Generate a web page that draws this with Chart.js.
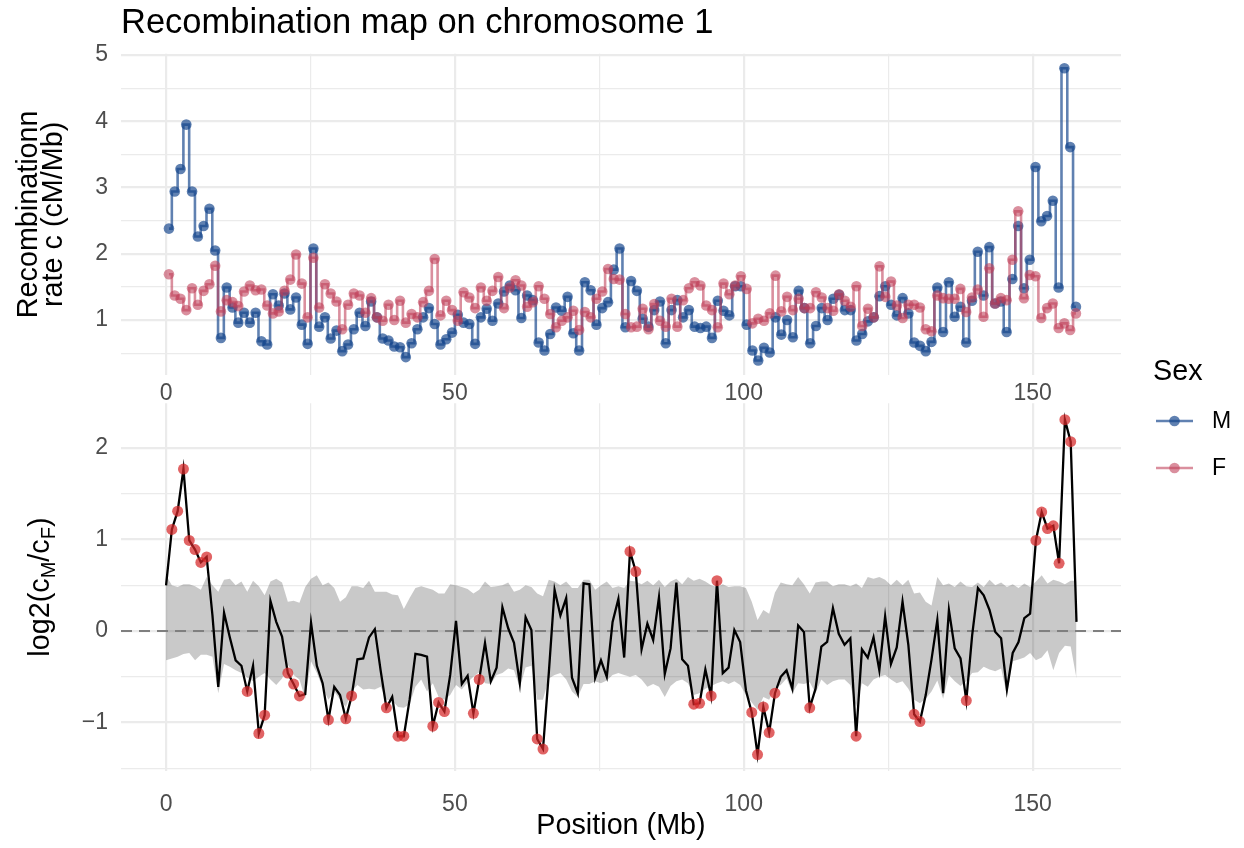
<!DOCTYPE html>
<html>
<head>
<meta charset="utf-8">
<script src="https://cdn.jsdelivr.net/npm/chart.js@4.4.1/dist/chart.umd.min.js"></script>
<style>
  html, body { margin: 0; padding: 0; background: #fff; }
  #wrap { position: relative; width: 1244px; height: 848px; }
  canvas { position: absolute; left: 0; }
  #cTop { top: 0; width: 1244px; height: 848px; }
  #cBot { top: 370px; width: 1244px; height: 478px; }
</style>
</head>
<body>
<div id="wrap">
  <canvas id="cTop" width="1244" height="848"></canvas>
  <canvas id="cBot" width="1244" height="478"></canvas>
</div>
<script>
// ─── Data ───
// recombination rate per 1 Mb window, cM/Mb
const rateM = [
  2.38, 2.94, 3.28, 3.95, 2.94, 2.26, 2.42, 2.68, 2.05, 0.73,
  1.49, 1.19, 0.96, 1.11, 0.96, 1.11, 0.68, 0.63, 1.39, 1.22,
  1.40, 1.16, 1.34, 0.93, 0.64, 2.08, 0.90, 1.04, 0.72, 0.84,
  0.53, 0.63, 0.86, 1.11, 0.91, 1.28, 1.04, 0.72, 0.69, 0.60,
  0.59, 0.44, 0.65, 0.86, 1.04, 1.18, 0.94, 0.63, 0.71, 0.81,
  1.08, 0.96, 0.94, 0.64, 1.04, 1.17, 0.99, 1.25, 1.43, 1.52,
  1.45, 1.03, 1.37, 1.30, 0.66, 0.54, 0.79, 1.19, 1.14, 1.35,
  0.80, 0.54, 1.57, 1.45, 0.93, 1.18, 1.27, 1.76, 2.08, 0.89,
  1.59, 1.44, 1.02, 0.90, 1.15, 1.28, 0.65, 1.15, 1.30, 1.04,
  1.15, 0.90, 0.88, 0.90, 0.73, 1.29, 1.14, 1.07, 1.51, 1.51,
  0.93, 0.54, 0.39, 0.58, 0.51, 1.04, 0.78, 1.00, 0.74, 1.44,
  1.18, 0.65, 0.91, 1.18, 1.00, 1.32, 1.38, 1.15, 1.15, 0.69,
  0.79, 0.98, 1.04, 1.36, 1.51, 1.23, 1.07, 1.33, 1.10, 0.66,
  0.61, 0.53, 0.67, 1.49, 0.82, 1.57, 1.05, 1.20, 0.66, 1.29,
  2.03, 1.37, 2.10, 1.25, 1.28, 0.82, 1.62, 2.42, 1.48, 1.91,
  3.31, 2.49, 2.57, 2.80, 1.49, 4.80, 3.61, 1.20
];
const rateF = [
  1.69, 1.37, 1.32, 1.15, 1.48, 1.23, 1.44, 1.54, 1.82, 1.13,
  1.30, 1.27, 1.21, 1.43, 1.52, 1.45, 1.46, 1.22, 1.10, 1.13,
  1.44, 1.61, 1.99, 1.55, 1.04, 1.94, 1.19, 1.54, 1.40, 1.28,
  0.86, 1.23, 1.40, 1.37, 1.11, 1.33, 1.04, 0.99, 1.23, 1.00,
  1.29, 0.96, 1.09, 1.04, 1.27, 1.44, 1.92, 1.07, 1.29, 1.15,
  0.99, 1.42, 1.34, 1.18, 1.49, 1.29, 1.44, 1.65, 1.18, 1.49,
  1.60, 1.52, 1.20, 1.27, 1.51, 1.32, 1.09, 0.89, 0.99, 1.04,
  1.14, 0.85, 1.12, 1.04, 1.32, 1.43, 1.77, 1.62, 1.61, 1.09,
  0.89, 0.90, 1.17, 0.86, 1.24, 0.99, 0.90, 1.32, 0.90, 1.30,
  1.48, 1.57, 1.52, 1.22, 1.15, 0.89, 1.55, 1.39, 1.52, 1.66,
  1.47, 0.95, 1.02, 0.99, 1.10, 1.67, 1.13, 1.35, 1.15, 1.32,
  1.18, 1.18, 1.42, 1.34, 1.18, 1.14, 1.39, 1.29, 1.20, 1.51,
  0.91, 1.17, 1.04, 1.81, 1.35, 1.58, 1.22, 1.03, 1.23, 1.23,
  1.19, 0.86, 0.83, 1.37, 1.33, 1.32, 1.32, 1.47, 1.12, 1.34,
  1.46, 1.05, 1.78, 1.25, 1.33, 1.30, 1.91, 2.64, 1.33, 1.68,
  1.66, 1.03, 1.18, 1.25, 0.88, 0.95, 0.85, 1.10
];
// log2(cM/cF) per window
const logRatio = [
  0.50, 1.11, 1.31, 1.77, 0.99, 0.89, 0.75, 0.81, 0.17, -0.61,
  0.20, -0.07, -0.32, -0.38, -0.66, -0.38, -1.12, -0.92, 0.33, 0.10,
  -0.06, -0.46, -0.58, -0.71, -0.69, 0.09, -0.38, -0.57, -0.97, -0.61,
  -0.70, -0.96, -0.71, -0.31, -0.30, -0.07, 0.02, -0.43, -0.84, -0.72,
  -1.15, -1.15, -0.75, -0.25, -0.26, -0.28, -1.04, -0.78, -0.88, -0.48,
  0.11, -0.58, -0.49, -0.90, -0.53, -0.13, -0.55, -0.40, 0.26, 0.03,
  -0.13, -0.57, 0.15, 0.01, -1.18, -1.29, -0.46, 0.45, 0.17, 0.36,
  -0.51, -0.68, 0.52, 0.51, -0.51, -0.32, -0.50, 0.10, 0.35, -0.29,
  0.87, 0.65, -0.20, 0.08, -0.10, 0.37, -0.47, -0.19, 0.53, -0.31,
  -0.38, -0.80, -0.79, -0.42, -0.71, 0.55, -0.46, -0.40, 0.01, -0.12,
  -0.65, -0.89, -1.35, -0.83, -1.11, -0.68, -0.50, -0.43, -0.63, 0.06,
  -0.01, -0.84, -0.63, -0.17, -0.12, 0.25, -0.03, -0.15, -0.08, -1.15,
  -0.20, -0.29, -0.07, -0.43, 0.16, -0.36, -0.18, 0.32, -0.15, -0.91,
  -0.99, -0.70, -0.31, 0.12, -0.68, 0.23, -0.19, -0.30, -0.76, -0.05,
  0.47, 0.39, 0.23, -0.01, -0.08, -0.64, -0.24, -0.12, 0.14, 0.19,
  0.99, 1.30, 1.12, 1.15, 0.74, 2.31, 2.07, 0.10
];
// permutation envelope (grey band)
const bandUpper = [
  0.61, 0.50, 0.48, 0.51, 0.51, 0.49, 0.45, 0.59, 0.50, 0.43,
  0.56, 0.57, 0.50, 0.54, 0.43, 0.55, 0.49, 0.39, 0.54, 0.57,
  0.53, 0.32, 0.33, 0.31, 0.48, 0.57, 0.61, 0.50, 0.53, 0.47,
  0.32, 0.37, 0.49, 0.49, 0.47, 0.55, 0.43, 0.43, 0.43, 0.40,
  0.39, 0.24, 0.36, 0.47, 0.49, 0.47, 0.45, 0.41, 0.41, 0.51,
  0.50, 0.48, 0.46, 0.41, 0.45, 0.54, 0.48, 0.49, 0.50, 0.53,
  0.43, 0.45, 0.50, 0.48, 0.41, 0.38, 0.56, 0.54, 0.50, 0.54,
  0.47, 0.47, 0.56, 0.56, 0.45, 0.50, 0.54, 0.47, 0.49, 0.47,
  0.55, 0.54, 0.51, 0.55, 0.50, 0.56, 0.48, 0.54, 0.57, 0.51,
  0.59, 0.55, 0.57, 0.54, 0.50, 0.48, 0.51, 0.48, 0.49, 0.49,
  0.47, 0.32, 0.12, 0.23, 0.19, 0.42, 0.53, 0.51, 0.50, 0.59,
  0.51, 0.41, 0.53, 0.54, 0.54, 0.49, 0.51, 0.51, 0.49, 0.52,
  0.47, 0.59, 0.57, 0.59, 0.56, 0.50, 0.56, 0.50, 0.56, 0.41,
  0.42, 0.32, 0.28, 0.59, 0.50, 0.52, 0.48, 0.54, 0.49, 0.48,
  0.53, 0.48, 0.56, 0.50, 0.53, 0.48, 0.51, 0.47, 0.52, 0.48,
  0.54, 0.61, 0.52, 0.56, 0.54, 0.51, 0.55, 0.55
];
const bandLower = [
  -0.32, -0.30, -0.28, -0.25, -0.24, -0.32, -0.26, -0.26, -0.28, -0.68,
  -0.36, -0.39, -0.43, -0.46, -0.51, -0.55, -0.50, -0.46, -0.53, -0.59,
  -0.52, -0.37, -0.48, -0.53, -0.74, -0.33, -0.46, -0.62, -0.75, -0.66,
  -0.75, -0.83, -0.66, -0.59, -0.64, -0.63, -0.64, -0.61, -0.75, -0.76,
  -0.83, -0.84, -0.80, -0.61, -0.53, -0.66, -0.57, -0.72, -0.75, -0.70,
  -0.59, -0.64, -0.56, -0.50, -0.45, -0.57, -0.58, -0.48, -0.46, -0.41,
  -0.43, -0.62, -0.40, -0.38, -0.75, -0.75, -0.52, -0.48, -0.46, -0.53,
  -0.66, -0.72, -0.58, -0.58, -0.55, -0.57, -0.54, -0.48, -0.46, -0.48,
  -0.50, -0.48, -0.53, -0.61, -0.58, -0.61, -0.72, -0.60, -0.55, -0.53,
  -0.57, -0.70, -0.68, -0.63, -0.60, -0.57, -0.55, -0.58, -0.55, -0.59,
  -0.70, -0.78, -0.86, -0.72, -0.75, -0.62, -0.59, -0.52, -0.68, -0.57,
  -0.58, -0.56, -0.68, -0.53, -0.59, -0.55, -0.53, -0.53, -0.59, -0.83,
  -0.57, -0.61, -0.53, -0.50, -0.48, -0.53, -0.57, -0.55, -0.63, -0.75,
  -0.79, -0.74, -0.66, -0.54, -0.74, -0.48, -0.55, -0.60, -0.55, -0.46,
  -0.45, -0.39, -0.42, -0.44, -0.41, -0.70, -0.33, -0.31, -0.29, -0.24,
  -0.32, -0.29, -0.21, -0.43, -0.24, -0.16, -0.17, -0.52
];
// windows where the ratio falls outside the band (red dots)
const sigWindows = [1, 2, 3, 4, 5, 6, 7, 14, 16, 17, 21, 22, 23, 28, 31, 32, 38, 40, 41,
  46, 47, 48, 53, 54, 64, 65, 80, 81, 91, 92, 94, 95, 101, 102, 103, 104, 105,
  111, 119, 129, 130, 138, 150, 151, 152, 153, 154, 155, 156];

// window positions (Mb): top panel at window centres, bottom at window starts
const WIN_MB = 1;
const BOT_STEP = 1.0038;
const posTop = rateM.map((_, i) => (i + 0.5) * WIN_MB);
const posBot = logRatio.map((_, i) => i * BOT_STEP);

// ticks / gridlines
const xGrid = [0, 25, 50, 75, 100, 125, 150];
const xLabels = [0, 50, 100, 150];
const topYGrid = [0.5, 1, 1.5, 2, 2.5, 3, 3.5, 4, 4.5, 5];
const topYLabels = [1, 2, 3, 4, 5];
const botYGrid = [-1.5, -1, -0.5, 0, 0.5, 1, 1.5, 2];
const botYLabels = [-1, 0, 1, 2];

const TITLE = 'Recombination map on chromosome 1';
const SEX_LABELS = ['M', 'F'];

// ─── Styling ───
const FONT = "'Liberation Sans', Arial, Helvetica, sans-serif";
const COL_M = 'rgba(20,70,140,0.68)';
const COL_F = 'rgba(192,62,88,0.58)';
const COL_SIG = 'rgba(214,39,40,0.72)';
const GRID = '#ebebeb';
const TICK_COL = '#4d4d4d';
const X_MIN = -7.8, X_MAX = 165.3;
const BOT_OFFSET = 370;   // page y where the lower canvas starts

Chart.defaults.font.family = FONT;
Chart.defaults.animation = false;

const fmt = v => v < 0 ? '\u2212' + Math.abs(v) : String(v);

function xScale(heightBelow, pad) {
    return {
        type: 'linear', min: X_MIN, max: X_MAX,
        afterBuildTicks: s => { s.ticks = xGrid.map(v => ({ value: v })); },
        afterFit: s => { s.height = heightBelow; },
        border: { display: false },
        grid: { color: GRID, drawTicks: false, lineWidth: c => xLabels.includes(c.tick.value) ? 2.2 : 1.2 },
        ticks: {
            autoSkip: false, maxRotation: 0, padding: pad, color: TICK_COL, font: { size: 23 },
            callback: v => xLabels.includes(v) ? fmt(v) : ''
        }
    };
}

function yScale(min, max, grid, labels) {
    return {
        type: 'linear', min, max,
        afterBuildTicks: s => { s.ticks = grid.map(v => ({ value: v })); },
        afterFit: s => { s.width = 121; },
        border: { display: false },
        grid: { color: GRID, drawTicks: false, lineWidth: c => labels.includes(c.tick.value) ? 2.2 : 1.2 },
        ticks: {
            autoSkip: false, padding: 13, color: TICK_COL, font: { size: 23 },
            callback: v => labels.includes(v) ? fmt(v) : ''
        }
    };
}

// ─── Top panel: recombination rate per sex ───
const topText = {
    id: 'topText',
    afterDraw(chart) {
        const { ctx, chartArea: a } = chart;
        ctx.save();
        ctx.fillStyle = '#000';
        ctx.textBaseline = 'alphabetic';
        ctx.textAlign = 'left';
        ctx.font = `34.5px ${FONT}`;
        ctx.fillText(TITLE, a.left, 33);

        // y axis title, two lines
        ctx.font = `28.75px ${FONT}`;
        ctx.textAlign = 'center';
        const cy = (a.top + a.bottom) / 2;
        [['Recombinationn', 37], ['rate c (cM/Mb)', 62]].forEach(([t, bx]) => {
            ctx.save();
            ctx.translate(bx, cy);
            ctx.rotate(-Math.PI / 2);
            ctx.fillText(t, 0, 0);
            ctx.restore();
        });

        // legend
        ctx.textAlign = 'left';
        ctx.textBaseline = 'middle';
        ctx.font = `28.75px ${FONT}`;
        ctx.fillText('Sex', 1153, 372);
        ctx.font = `23px ${FONT}`;
        [[COL_M, 421], [COL_F, 468]].forEach(([col, ly], k) => {
            ctx.strokeStyle = col;
            ctx.lineWidth = 2.6;
            ctx.beginPath(); ctx.moveTo(1156, ly); ctx.lineTo(1193, ly); ctx.stroke();
            ctx.fillStyle = col;
            ctx.beginPath(); ctx.arc(1174.5, ly, 5.3, 0, Math.PI * 2); ctx.fill();
            ctx.fillStyle = '#000';
            ctx.fillText(SEX_LABELS[k], 1212, ly + 1);
        });
        ctx.restore();
    }
};

const seriesStyle = col => ({
    borderColor: col, backgroundColor: col, borderWidth: 2.6, stepped: 'middle',
    pointRadius: 5.3, pointBorderWidth: 0, pointBackgroundColor: col, fill: false
});

new Chart(document.getElementById('cTop'), {
    type: 'line',
    data: {
        datasets: [
            { label: 'F', order: 0, data: posTop.map((x, i) => ({ x, y: rateF[i] })), ...seriesStyle(COL_F) },
            { label: 'M', order: 1, data: posTop.map((x, i) => ({ x, y: rateM[i] })), ...seriesStyle(COL_M) }
        ]
    },
    options: {
        responsive: false,
        events: [],
        layout: { padding: { left: 0, right: 123, top: 53.7, bottom: 0 } },
        plugins: { legend: { display: false }, tooltip: { enabled: false } },
        scales: {
            x: xScale(848 - 375, 5),
            y: yScale(0.17, 5.02, topYGrid, topYLabels)
        }
    },
    plugins: [topText]
});

// ─── Bottom panel: log2 ratio with envelope ───
const zeroLine = {
    id: 'zeroLine',
    afterDatasetDraw(chart, args) {
        if (args.index !== 1) return;
        const { ctx, chartArea: a, scales: { y } } = chart;
        const py = y.getPixelForValue(0);
        ctx.save();
        ctx.strokeStyle = '#7f7f7f';
        ctx.lineWidth = 2.2;
        ctx.setLineDash([11, 7]);
        ctx.beginPath(); ctx.moveTo(a.left, py); ctx.lineTo(a.right, py); ctx.stroke();
        ctx.restore();
    }
};

const botText = {
    id: 'botText',
    afterDraw(chart) {
        const { ctx, chartArea: a } = chart;
        ctx.save();
        ctx.fillStyle = '#000';
        ctx.textBaseline = 'alphabetic';
        ctx.textAlign = 'center';
        ctx.font = `28.75px ${FONT}`;
        ctx.fillText('Position (Mb)', (a.left + a.right) / 2, 834 - BOT_OFFSET);

        // log2(c_M / c_F) with subscripts, rotated
        const big = `28.75px ${FONT}`, small = `20px ${FONT}`;
        const parts = [['log2(c', big, 0], ['M', small, 6], ['/c', big, 0], ['F', small, 6], [')', big, 0]];
        let total = 0;
        parts.forEach(p => { ctx.font = p[1]; total += ctx.measureText(p[0]).width; });
        ctx.translate(49, (a.top + a.bottom) / 2);
        ctx.rotate(-Math.PI / 2);
        ctx.textAlign = 'left';
        let x = -total / 2;
        parts.forEach(([t, f, dy]) => {
            ctx.font = f;
            ctx.fillText(t, x, dy);
            x += ctx.measureText(t).width;
        });
        ctx.restore();
    }
};

new Chart(document.getElementById('cBot'), {
    type: 'line',
    data: {
        datasets: [
            { label: 'lower', order: 4, data: posBot.map((x, i) => ({ x, y: bandLower[i] })),
              borderWidth: 0, pointRadius: 0, fill: false, borderColor: 'rgba(0,0,0,0)' },
            { label: 'upper', order: 3, data: posBot.map((x, i) => ({ x, y: bandUpper[i] })),
              borderWidth: 0, pointRadius: 0, fill: '-1', borderColor: 'rgba(0,0,0,0)',
              backgroundColor: 'rgba(0,0,0,0.21)' },
            { label: 'log2 ratio', order: 2, data: posBot.map((x, i) => ({ x, y: logRatio[i] })),
              borderColor: '#000', borderWidth: 2.3, pointRadius: 0, fill: false, tension: 0 },
            { label: 'outside', order: 1, data: sigWindows.map(i => ({ x: posBot[i], y: logRatio[i] })),
              showLine: false, pointRadius: 5.5, pointBorderWidth: 0,
              pointBackgroundColor: COL_SIG, backgroundColor: COL_SIG }
        ]
    },
    options: {
        responsive: false,
        events: [],
        layout: { padding: { left: 0, right: 123, top: 403.2 - BOT_OFFSET, bottom: 0 } },
        plugins: { legend: { display: false }, tooltip: { enabled: false } },
        scales: {
            x: xScale(848 - 771, 20),
            y: yScale(-1.53, 2.49, botYGrid, botYLabels)
        }
    },
    plugins: [zeroLine, botText]
});
</script>
</body>
</html>
